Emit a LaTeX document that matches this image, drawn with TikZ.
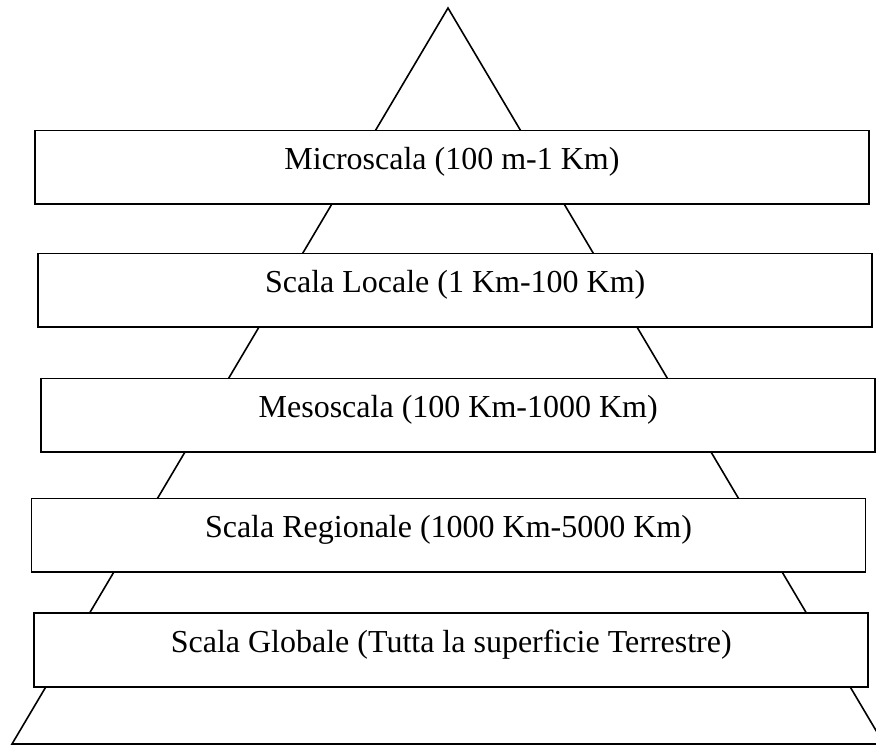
\documentclass[tikz,border=0pt]{standalone}
\usepackage{fontspec}
\setmainfont{Liberation Serif}
\begin{document}
\begin{tikzpicture}[x=1pt,y=-1pt,
  lvlbox/.style={draw=black, fill=white, line width=1.6pt, inner sep=0pt, outer sep=0pt,
    minimum width=834pt, minimum height=73.6pt,
    text height=38.8pt, text depth=34.8pt,
    font=\fontsize{32}{38}\selectfont},
  pyr/.style={draw=black, line width=1.6pt, line join=miter}]
\useasboundingbox (0,0) rectangle (876,745);
\clip (0,0) rectangle (876,745);
\coordinate (apex) at (448,8);
\coordinate (bl) at (12,744);
\coordinate (br) at (884,744);
\draw[pyr] (apex) -- (bl) -- (br) -- cycle;
\node[lvlbox] (b1) at (452,167.4) {Microscala (100 m-1 Km)};
\node[lvlbox] (b2) at (455.2,290.3) {Scala Locale (1 Km-100 Km)};
\node[lvlbox] (b3) at (458.2,415.4) {Mesoscala (100 Km-1000 Km)};
\node[lvlbox] (b4) at (448.5,535.3) {Scala Regionale (1000 Km-5000 Km)};
\node[lvlbox] (b5) at (451.2,650) {Scala Globale (Tutta la superficie Terrestre)};
\end{tikzpicture}
\end{document}
